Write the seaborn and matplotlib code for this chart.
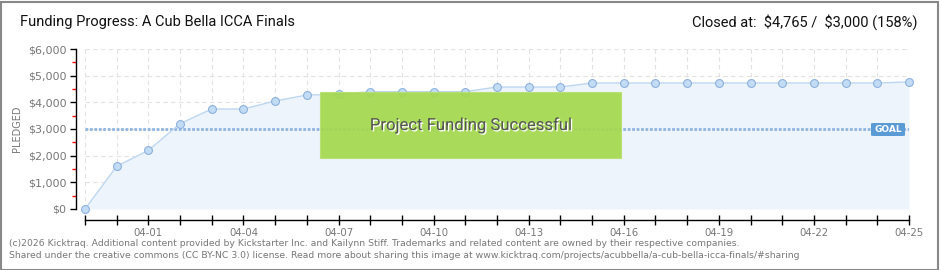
import numpy as np
import pandas as pd
import matplotlib
matplotlib.use("Agg")
import matplotlib.pyplot as plt
import matplotlib.patheffects as pe
from matplotlib.patches import Rectangle, FancyBboxPatch
import seaborn as sns

# ---- data ----
dates = pd.date_range("2026-03-30", "2026-04-25", freq="D")
pledged = [0, 1600, 2200, 3200, 3750, 3750, 4050, 4275, 4300, 4400,
           4400, 4400, 4400, 4575, 4575, 4575, 4725, 4725, 4725, 4725,
           4725, 4725, 4725, 4725, 4725, 4725, 4765]
goal = 3000
y_ticks = [0, 1000, 2000, 3000, 4000, 5000, 6000]
y_tick_labels = ["$0", "$1,000", "$2,000", "$3,000", "$4,000", "$5,000", "$6,000"]
title = "Funding Progress: A Cub Bella ICCA Finals"
closed_text = "Closed at:  \\$4,765 /  \\$3,000 (158%)"
banner = "Project Funding Successful"
footer1 = ("(c)2026 Kicktraq. Additional content provided by Kickstarter Inc. and Kailynn Stiff. "
           "Trademarks and related content are owned by their respective companies.")
footer2 = ("Shared under the creative commons (CC BY-NC 3.0) license. Read more about sharing this image at "
           "www.kicktraq.com/projects/acubbella/a-cub-bella-icca-finals/#sharing")

df = pd.DataFrame({"day": np.arange(len(dates)), "pledged": pledged})

sns.set_theme(style="white")
plt.rcParams["font.family"] = ["DejaVu Sans"]
NARROW = ["Roboto", "DejaVu Sans"]

W, H = 940, 270
fig = plt.figure(figsize=(W / 100, H / 100), dpi=100)
fig.patch.set_facecolor("white")

ax = fig.add_axes([85 / W, (H - 209) / H, 824 / W, 160 / H])
ax.set_facecolor("white")

# grid
ax.set_xlim(0, len(dates) - 1)
ax.set_ylim(0, 6000)
ax.set_xticks(df["day"])
ax.set_yticks(y_ticks)
ax.grid(True, which="major", color="#e2e2e2", linestyle=(0, (4, 3)), linewidth=0.8)
ax.set_axisbelow(True)

# area + line
ax.fill_between(df["day"], df["pledged"], 0, color="#eef4fc", zorder=1, linewidth=0)
sns.lineplot(data=df, x="day", y="pledged", ax=ax, color="#bcd6f1", linewidth=1.0,
             zorder=3, legend=False)
sns.scatterplot(data=df, x="day", y="pledged", ax=ax, s=32, color="#c2dcf6",
                edgecolor="#8eb1dc", linewidth=0.8, zorder=4, clip_on=False, legend=False)

# goal line
ax.axhline(goal, color="#8fb4e0", linewidth=2.0, linestyle=(0, (1.0, 0.6)), zorder=2)

# goal label
gx0, gx1 = (871 - 85) / 824, (905 - 85) / 824
gy = (209 - 129.5) / 160
ax.add_patch(FancyBboxPatch((gx0, gy - 6.5 / 160), gx1 - gx0, 13 / 160,
                            boxstyle="round,pad=0,rounding_size=0.004",
                            transform=ax.transAxes, facecolor="#5b9bd5",
                            edgecolor="none", zorder=6, clip_on=False))
ax.text((gx0 + gx1) / 2, gy, "GOAL", transform=ax.transAxes, ha="center", va="center",
        color="white", fontsize=6.5, fontweight="bold", zorder=7)

# success banner
bx0, bx1 = (320 - 85) / 824, (621 - 85) / 824
by0, by1 = (209 - 158) / 160, (209 - 92) / 160
ax.add_patch(Rectangle((bx0, by0), bx1 - bx0, by1 - by0, transform=ax.transAxes,
                       facecolor="#a4d84e", edgecolor="#b8e070", linewidth=0.8,
                       alpha=0.93, zorder=8))
ax.text((bx0 + bx1) / 2, (by0 + by1) / 2, banner, transform=ax.transAxes,
        ha="center", va="center", fontsize=12, color="#555555", family=NARROW, zorder=9,
        path_effects=[pe.withSimplePatchShadow(offset=(1, -1), shadow_rgbFace="white", alpha=1)])

# spines and ticks
for s in ["top", "right"]:
    ax.spines[s].set_visible(False)
ax.spines["left"].set_position(("outward", 9 * 0.72))
ax.spines["bottom"].set_position(("outward", 11 * 0.72))
for s in ["left", "bottom"]:
    ax.spines[s].set_color("black")
    ax.spines[s].set_linewidth(1.0)

xlabels = [d.strftime("%m-%d") if (i - 2) % 3 == 0 else "" for i, d in enumerate(dates)]
ax.set_xticklabels(xlabels)
ax.set_yticklabels(y_tick_labels)
ax.tick_params(axis="x", which="major", direction="inout", length=7, width=1,
               color="black", labelsize=7.3, labelcolor="#777777", pad=2, bottom=True)
ax.tick_params(axis="y", which="major", direction="out", length=4, width=1,
               color="black", labelsize=8, labelcolor="#777777", pad=3, left=True)
ax.set_yticks([500, 1500, 2500, 3500, 4500, 5500], minor=True)
ax.tick_params(axis="y", which="minor", direction="out", length=3, width=1,
               color="red", left=True)
ax.set_xlabel("")
ax.set_ylabel("PLEDGED", fontsize=7, color="#777777", labelpad=4)

# texts
fig.text(20 / W, 1 - 22 / H, title, ha="left", va="center", fontsize=10.5,
         color="#111111", family=NARROW)
fig.text(918 / W, 1 - 22 / H, closed_text, ha="right", va="center", fontsize=10.5,
         color="#111111", family=NARROW)
fig.text(9 / W, 1 - 243 / H, footer1, ha="left", va="center", fontsize=6.7,
         color="#777777")
fig.text(9 / W, 1 - 256 / H, footer2, ha="left", va="center", fontsize=6.7,
         color="#777777")

# outer frame
fig.add_artist(Rectangle((0.5 / W, 0.5 / H), 1 - 2.5 / W, 1 - 2.5 / H, transform=fig.transFigure,
                         facecolor="none", edgecolor="#888888", linewidth=1.5))

fig.savefig("out.png", dpi=100)
